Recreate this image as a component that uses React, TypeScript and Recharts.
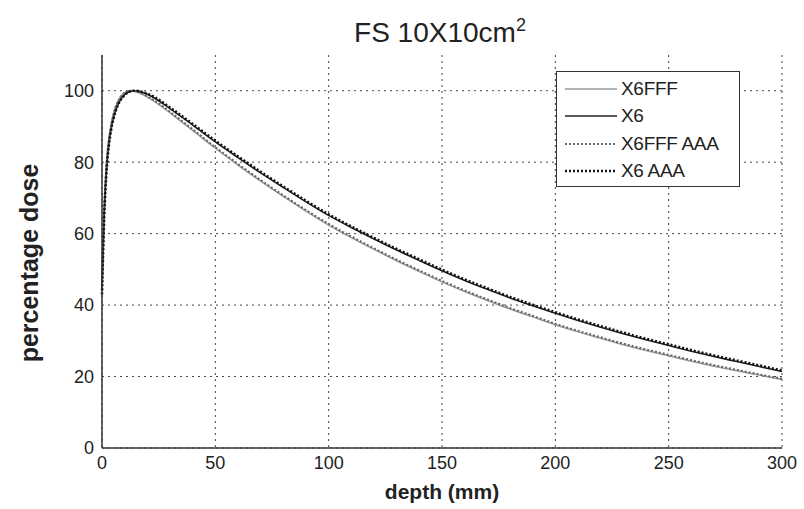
import React from "react";
import {
  LineChart,
  Line,
  XAxis,
  YAxis,
  CartesianGrid,
  Label,
} from "recharts";

// depth grid (mm) shared by all four depth-dose curves
const depths = [
  0, 1, 2, 3, 4, 5, 6, 8, 10, 12, 14, 16, 18, 20, 25, 30, 40, 50, 60, 70, 80,
  90, 100, 110, 120, 130, 140, 150, 160, 170, 180, 190, 200, 210, 220, 230,
  240, 250, 260, 270, 280, 290, 300,
];

const x6fff = [
  46, 68, 80, 86.5, 90.5, 93.4, 95.5, 98.2, 99.5, 100, 99.9, 99.5, 98.9, 98.2,
  96.2, 93.8, 88.9, 83.9, 79.2, 74.7, 70.4, 66.3, 62.4, 58.9, 55.6, 52.4, 49.4,
  46.5, 43.8, 41.3, 38.9, 36.7, 34.5, 32.5, 30.7, 28.9, 27.3, 25.8, 24.3, 22.9,
  21.6, 20.4, 19.2,
];

const x6 = [
  44, 66, 78, 85, 89.2, 92.3, 94.5, 97.3, 98.9, 99.7, 100, 99.9, 99.5, 99, 97.2,
  95, 90.4, 85.7, 81.3, 77, 72.9, 68.9, 65.1, 61.7, 58.5, 55.4, 52.5, 49.6,
  46.9, 44.4, 42, 39.8, 37.7, 35.7, 33.8, 32, 30.3, 28.7, 27.1, 25.6, 24.2,
  22.8, 21.4,
];

const x6fffAAA = [
  45, 67, 79.5, 86, 90.3, 93.2, 95.4, 98.1, 99.5, 100, 99.9, 99.6, 99.1, 98.4,
  96.5, 94.1, 89.2, 84.2, 79.5, 75, 70.7, 66.6, 62.7, 59.2, 55.9, 52.7, 49.7,
  46.8, 44.1, 41.6, 39.2, 37, 34.8, 32.8, 31, 29.2, 27.6, 26.1, 24.6, 23.2,
  21.9, 20.6, 19.4,
];

const x6AAA = [
  43, 65, 77.5, 84.5, 89, 92, 94.3, 97.2, 98.8, 99.7, 100, 99.9, 99.6, 99.2,
  97.5, 95.3, 90.7, 86, 81.6, 77.3, 73.2, 69.2, 65.4, 62, 58.8, 55.7, 52.8,
  49.9, 47.2, 44.7, 42.3, 40.1, 38, 36, 34.1, 32.3, 30.6, 29, 27.4, 25.9, 24.5,
  23.1, 21.7,
];

const xTicks = [0, 50, 100, 150, 200, 250, 300];
const yTicks = [0, 20, 40, 60, 80, 100];

const data = depths.map((d, i) => ({
  depth: d,
  x6fff: x6fff[i],
  x6: x6[i],
  x6fffAAA: x6fffAAA[i],
  x6AAA: x6AAA[i],
}));

const series = [
  { key: "x6fff", name: "X6FFF", color: "#9a9a9a", width: 1.5, dash: undefined },
  { key: "x6", name: "X6", color: "#222", width: 1.6, dash: undefined },
  { key: "x6fffAAA", name: "X6FFF AAA", color: "#666", width: 2, dash: "2 2" },
  { key: "x6AAA", name: "X6 AAA", color: "#111", width: 2.6, dash: "2 2" },
];

const font = "'Liberation Sans', Arial, sans-serif";

function LegendBox() {
  return (
    <div
      style={{
        position: "absolute",
        left: 556,
        top: 71,
        border: "1.5px solid #333",
        background: "#fff",
        width: 184,
        height: 116,
        boxSizing: "border-box",
        padding: "3px 0 0 0",
        fontFamily: font,
        fontSize: 19,
        color: "#222",
      }}
    >
      {series.map((s) => (
        <div
          key={s.key}
          style={{ display: "flex", alignItems: "center", height: 27.5 }}
        >
          <svg width={56} height={10} style={{ marginLeft: 8 }}>
            <line
              x1={0}
              y1={5}
              x2={52}
              y2={5}
              stroke={s.color}
              strokeWidth={s.width}
              strokeDasharray={s.dash}
            />
          </svg>
          <span style={{ letterSpacing: -0.3 }}>{s.name}</span>
        </div>
      ))}
    </div>
  );
}

// vertical axis title, placed a little below the plot's centre line
const YTitle = () => (
  <text
    x={38}
    y={263}
    transform="rotate(-90 38 263)"
    textAnchor="middle"
    fontFamily={font}
    fontSize={25}
    fontWeight="bold"
    fill="#222"
  >
    percentage dose
  </text>
);

export default function App() {
  return (
    <div style={{ position: "absolute", left: 0, top: 0, background: "#fff" }}>
      <LineChart
        width={804}
        height={509}
        data={data}
        margin={{ top: 55, right: 22, bottom: 0, left: 0 }}
      >
        <text
          x={440}
          y={42}
          textAnchor="middle"
          fontFamily={font}
          fontSize={28}
          fill="#222"
        >
          FS 10X10cm
          <tspan dy={-11} fontSize={18}>
            2
          </tspan>
        </text>
        <CartesianGrid
          stroke="#444"
          strokeDasharray="2 4"
          horizontalValues={yTicks}
          verticalValues={xTicks}
        />
        <XAxis
          dataKey="depth"
          type="number"
          domain={[0, 300]}
          ticks={xTicks}
          height={61}
          stroke="#333"
          strokeWidth={1.5}
          tickLine={false}
          tick={{ fill: "#222", fontSize: 18, fontFamily: font }}
          tickMargin={2}
        >
          <Label
            value="depth (mm)"
            position="insideBottom"
            offset={10}
            style={{
              fill: "#222",
              fontSize: 21,
              fontWeight: "bold",
              fontFamily: font,
            }}
          />
        </XAxis>
        <XAxis
          xAxisId="top"
          dataKey="depth"
          type="number"
          domain={[0, 300]}
          orientation="top"
          height={0}
          tick={false}
          tickLine={false}
          stroke="#333"
          strokeWidth={1.5}
        />
        <YAxis
          type="number"
          domain={[0, 110]}
          ticks={yTicks}
          width={102}
          stroke="#333"
          strokeWidth={1.5}
          tickLine={false}
          tick={{ fill: "#222", fontSize: 18, fontFamily: font }}
          tickMargin={2}
        />
        <YAxis
          yAxisId="right"
          orientation="right"
          domain={[0, 110]}
          width={0}
          tick={false}
          tickLine={false}
          stroke="#333"
          strokeWidth={1.5}
        />
        {series.map((s) => (
          <Line
            key={s.key}
            dataKey={s.key}
            name={s.name}
            type="monotone"
            stroke={s.color}
            strokeWidth={s.width}
            strokeDasharray={s.dash}
            dot={false}
            isAnimationActive={false}
          />
        ))}
        <YTitle />
      </LineChart>
      <LegendBox />
    </div>
  );
}
